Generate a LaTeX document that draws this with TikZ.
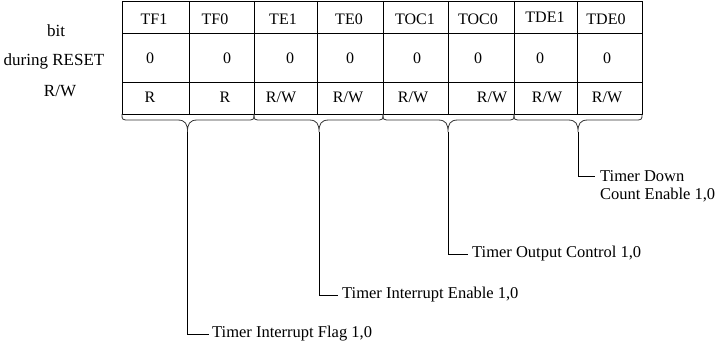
\documentclass[tikz,border=0pt]{standalone}
\usepackage{fontspec}
\setmainfont{Liberation Serif}
\begin{document}
\begin{tikzpicture}[x=1pt,y=-1pt,
  txt/.style={inner sep=0pt,font=\fontsize{16}{19}\selectfont},
  side/.style={inner sep=0pt,font=\fontsize{17}{20}\selectfont},
  lbl/.style={inner sep=0pt,anchor=west,font=\fontsize{16.5}{19}\selectfont},
  grid/.style={line width=0.9pt},
  brc/.style={line width=0.8pt,black!80},
  conn/.style={line width=0.9pt}]
\useasboundingbox (0,0) rectangle (718,350);
% grid
\draw[grid] (122,1) rectangle (642,114);
\foreach \y in {33,82} \draw[grid] (122,\y) -- (642,\y);
\foreach \x in {189,254,317,383,448,514,577} \draw[grid] (\x,1) -- (\x,114);
% left labels
\node[side] (lbit) at (56,31) {bit};
\node[side] (lres) at (54,61) {during RESET};
\node[side] (lrw) at (60,91) {R/W};
% row 1
\node[txt] (b7) at (154,19) {TF1};
\node[txt] (b6) at (215,19) {TF0};
\node[txt] (b5) at (283,19) {TE1};
\node[txt] (b4) at (349,19) {TE0};
\node[txt] (b3) at (415,19) {TOC1};
\node[txt] (b2) at (478,19) {TOC0};
\node[txt] (b1) at (545,17) {TDE1};
\node[txt] (b0) at (606,19) {TDE0};
% row 2
\foreach \x/\n in {150/7,227/6,290/5,350/4,417/3,478/2,540/1,607/0}
  \node[txt] (r\n) at (\x,58) {0};
% row 3
\node[txt] (w7) at (150,97) {R};
\node[txt] (w6) at (225,97) {R};
\node[txt] (w5) at (281,97) {R/W};
\node[txt] (w4) at (348,97) {R/W};
\node[txt] (w3) at (413,97) {R/W};
\node[txt] (w2) at (492,97) {R/W};
\node[txt] (w1) at (547,97) {R/W};
\node[txt] (w0) at (607,97) {R/W};
% braces
\foreach \a/\m/\b/\n in {122/187.5/254/f, 254/319/383/e, 383/448/514/o, 514/578/642/d}{
  \coordinate (tip\n) at (\m,132);
  \draw[brc] (\a,114) .. controls (\a,120) .. (\a+8,120) -- (\m-10,120)
    .. controls (\m-2,120) and (\m,124) .. (tip\n)
    .. controls (\m,124) and (\m+2,120) .. (\m+10,120) -- (\b-8,120)
    .. controls (\b,120) .. (\b,114);
}
% labels
\node[lbl] (lf) at (212,334) {Timer Interrupt Flag 1,0};
\node[lbl] (le) at (342,295) {Timer Interrupt Enable 1,0};
\node[lbl] (lo) at (472,254) {Timer Output Control 1,0};
\node[lbl] (ld) at (600,176) {Timer Down};
\node[lbl] (ld2) at (600,195) {Count Enable 1,0};
% connectors
\draw[conn] (tipf) |- ([xshift=-3pt]lf.west);
\draw[conn] (tipe) |- ([xshift=-4pt]le.west);
\draw[conn] (tipo) |- ([xshift=-4pt]lo.west);
\draw[conn] (tipd) |- ([xshift=-5pt]ld.west);
\end{tikzpicture}
\end{document}
